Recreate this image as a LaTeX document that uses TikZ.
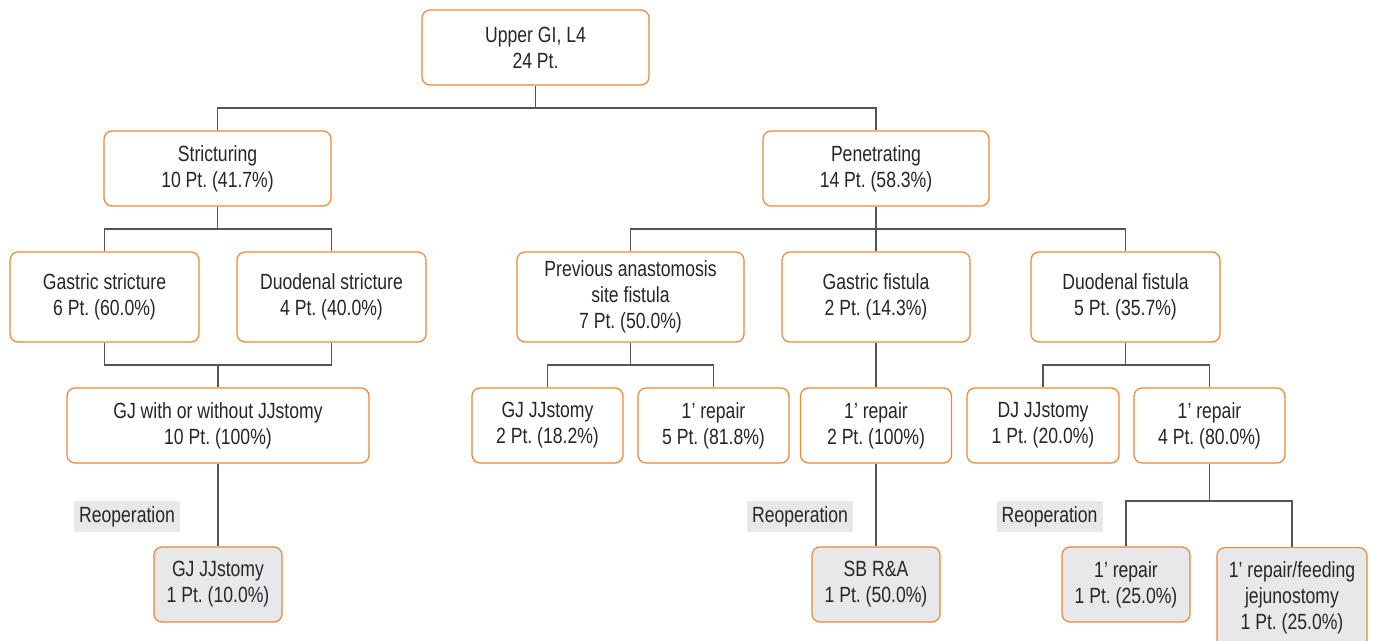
\documentclass[tikz,border=0pt]{standalone}
\usepackage{fontspec}
\setmainfont{Liberation Sans}[FakeStretch=0.8]
\usetikzlibrary{calc}
\definecolor{boxorange}{RGB}{240,133,50}
\definecolor{linegray}{RGB}{85,85,85}
\definecolor{txt}{RGB}{40,38,38}
\definecolor{shade}{RGB}{231,232,233}
\begin{document}
\frenchspacing
\begin{tikzpicture}[x=1pt,y=-1pt,
  box/.style={draw=boxorange,line width=1.2pt,rounded corners=8pt,fill=white,
    align=center,text=txt,inner sep=0pt,font=\fontsize{22}{26}\selectfont},
  greybox/.style={box,fill=shade},
  reop/.style={fill=shade,text=txt,inner sep=0pt,minimum width=106pt,minimum height=31pt,
    font=\fontsize{22}{26}\selectfont},
  conn/.style={draw=linegray,line width=1.3pt}]
\clip (0,0) rectangle (1373,640);
\fill[white] (0,0) rectangle (1373,640);
% level 1
\node[box,minimum width=227pt,minimum height=75pt] (top) at (535.5,47.5) {Upper GI, L4\\24 Pt.};
% level 2
\node[box,minimum width=227pt,minimum height=75pt] (strict) at (217.5,168.5) {Stricturing\\10 Pt. (41.7\%)};
\node[box,minimum width=226pt,minimum height=75pt] (pen) at (876,168.5) {Penetrating\\14 Pt. (58.3\%)};
% level 3
\node[box,minimum width=189pt,minimum height=90pt] (gs) at (104.5,297) {Gastric stricture\\6 Pt. (60.0\%)};
\node[box,minimum width=189pt,minimum height=90pt] (ds) at (331.5,297) {Duodenal stricture\\4 Pt. (40.0\%)};
\node[box,minimum width=227pt,minimum height=90pt] (pa) at (630.5,297) {Previous anastomosis\\site fistula\\7 Pt. (50.0\%)};
\node[box,minimum width=188pt,minimum height=90pt] (gf) at (876,297) {Gastric fistula\\2 Pt. (14.3\%)};
\node[box,minimum width=189pt,minimum height=90pt] (df) at (1125.5,297) {Duodenal fistula\\5 Pt. (35.7\%)};
% level 4
\node[box,minimum width=302pt,minimum height=75pt] (gj) at (218,425.5) {GJ with or without JJstomy\\10 Pt. (100\%)};
\node[box,minimum width=151pt,minimum height=75pt] (gjj2) at (547.5,425.5) {GJ JJstomy\\2 Pt. (18.2\%)};
\node[box,minimum width=151pt,minimum height=75pt] (r5) at (713.5,425.5) {1’ repair\\5 Pt. (81.8\%)};
\node[box,minimum width=151pt,minimum height=75pt] (r2) at (876,425.5) {1’ repair\\2 Pt. (100\%)};
\node[box,minimum width=152pt,minimum height=75pt] (dj) at (1043,425.5) {DJ JJstomy\\1 Pt. (20.0\%)};
\node[box,minimum width=151pt,minimum height=75pt] (r4) at (1209.5,425.5) {1’ repair\\4 Pt. (80.0\%)};
% level 5
\node[greybox,minimum width=128pt,minimum height=75pt] (gjj1) at (218,584.5) {GJ JJstomy\\1 Pt. (10.0\%)};
\node[greybox,minimum width=128pt,minimum height=75pt] (sb) at (876,584.5) {SB R\&A\\1 Pt. (50.0\%)};
\node[greybox,minimum width=128pt,minimum height=75pt] (r1) at (1126,584.5) {1’ repair\\1 Pt. (25.0\%)};
\node[greybox,minimum width=150pt,inner ysep=14pt,anchor=north] (rf) at (1292,547) {1’ repair/feeding\\jejunostomy\\1 Pt. (25.0\%)};
% reoperation labels
\node[reop] (re1) at (127,516.5) {Reoperation};
\node[reop] (re2) at (800,516.5) {Reoperation};
\node[reop] (re3) at (1049.5,516.5) {Reoperation};
% bus levels
\coordinate (b1) at (0,108);
\coordinate (b2) at (0,229);
\coordinate (b3) at (0,365);
\coordinate (b4) at (0,501);
% connectors
\draw[conn] (top.south) -- (top.south |- b1);
\draw[conn] (strict.north) |- (top.south |- b1) -| (pen.north);
\draw[conn] (strict.south) -- (strict.south |- b2);
\draw[conn] (gs.north) |- (strict.south |- b2) -| (ds.north);
\draw[conn] (pen.south) -- (pen.south |- b2);
\draw[conn] (pa.north) |- (pen.south |- b2) -| (df.north);
\draw[conn] (pen.south |- b2) -- (gf.north);
\draw[conn] (gs.south) |- (gj.north |- b3) -| (ds.south);
\draw[conn] (gj.north |- b3) -- (gj.north);
\draw[conn] (pa.south) -- (pa.south |- b3);
\draw[conn] (gjj2.north) |- (pa.south |- b3) -| (r5.north);
\draw[conn] (gf.south) -- (r2.north);
\draw[conn] (df.south) -- (df.south |- b3);
\draw[conn] (dj.north) |- (df.south |- b3) -| (r4.north);
\draw[conn] (gj.south) -- (gjj1.north);
\draw[conn] (r2.south) -- (sb.north);
\draw[conn] (r4.south) -- (r4.south |- b4);
\draw[conn] (r1.north) |- (r4.south |- b4) -| (rf.north);
\end{tikzpicture}
\end{document}
